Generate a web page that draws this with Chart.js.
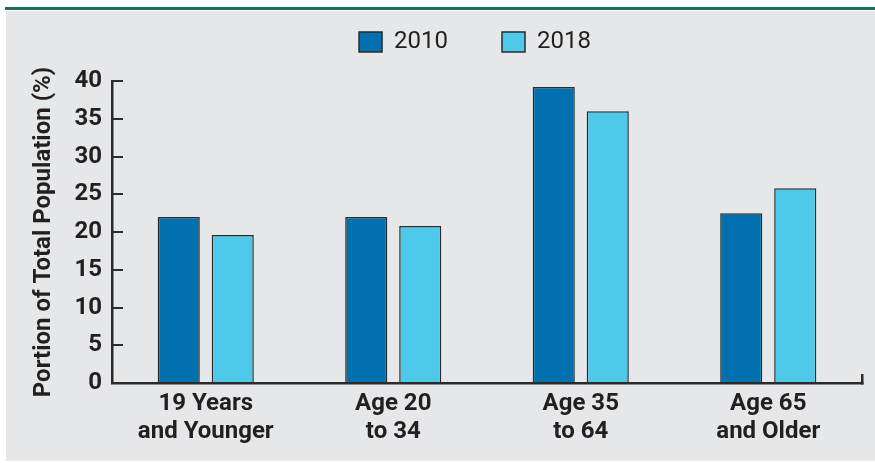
<!DOCTYPE html>
<html>
<head>
<meta charset="utf-8">
<script src="https://cdn.jsdelivr.net/npm/chart.js@4/dist/chart.umd.min.js"></script>
<style>
body{margin:0;background:#fff;}
#rule{position:absolute;left:5px;top:7px;width:870px;height:3px;background:#1b6d58;}
#panel{position:absolute;left:6px;top:11px;width:869px;height:450px;background:#e6e7e8;}
#pop{position:absolute;left:0;top:0;}
</style>
</head>
<body>
<div id="rule"></div>
<div id="panel"></div>
<canvas id="pop" width="875" height="463"></canvas>
<script>
const categories=[["19 Years","and Younger"],["Age 20","to 34"],["Age 35","to 64"],["Age 65","and Older"]];
const values2010=[22.0,22.0,39.2,22.5];
const values2018=[19.6,20.8,36.0,25.8];
const seriesNames=["2010","2018"];

Chart.defaults.font.family="Roboto";
Chart.defaults.color="#231f20";

const chart=document.getElementById("pop");
let canvas=new Chart(chart,{
    type:'bar',
    data:{
        labels:categories,
        datasets:[
            {
                label:seriesNames[0],
                data:values2010,
                backgroundColor:"#0070ae",
                borderColor:"#2b2b2b",
                borderWidth:1.5,
                xAxisID:'x',
                yAxisID:'y',
                categoryPercentage:0.576,
                barPercentage:0.78
            },
            {
                label:seriesNames[1],
                data:values2018,
                backgroundColor:"#4ec9ea",
                borderColor:"#2b2b2b",
                borderWidth:1.5,
                xAxisID:'x',
                yAxisID:'y',
                categoryPercentage:0.576,
                barPercentage:0.78
            }
        ]
    },
    options:{
        responsive:false,
        animation:false,
        layout:{padding:{top:-24,left:55,right:-20,bottom:0}},
        plugins:{
            tooltip:{enabled:false},
            legend:{
                position:'top',
                labels:{
                    boxWidth:23,
                    boxHeight:20,
                    padding:54,
                    color:"#231f20",
                    font:{size:24}
                }
            }
        },
        scales:{
            x:{
                position:'bottom',
                grid:{
                    drawOnChartArea:false,
                    tickLength:-9,
                    lineWidth:2.5,
                    color:(c)=>c.type==='tick'?'rgba(0,0,0,0)':'#2b2b2b'
                },
                border:{display:true,color:'#2b2b2b',width:2.5},
                ticks:{
                    padding:16,
                    color:"#231f20",
                    font:{size:24,weight:'bold',lineHeight:1.18}
                },
                afterFit:(s)=>{s.height=80;}
            },
            xTop:{
                type:'category',
                position:'top',
                grid:{display:false},
                border:{display:false},
                ticks:{display:false},
                afterFit:(s)=>{s.height=17;}
            },
            y:{
                min:0,
                max:40,
                ticks:{
                    stepSize:5,
                    padding:21,
                    color:"#231f20",
                    font:{size:24,weight:'bold'}
                },
                grid:{
                    drawOnChartArea:false,
                    tickLength:-11,
                    lineWidth:2,
                    color:'#2b2b2b'
                },
                border:{display:true,color:'#2b2b2b',width:2.5},
                title:{
                    display:true,
                    text:"Portion of Total Population (%)",
                    color:"#231f20",
                    padding:{top:-25,bottom:0},
                    font:{size:24,weight:'bold'}
                },
                afterFit:(s)=>{s.width=57;}
            },
            yRight:{
                type:'linear',
                position:'right',
                grid:{display:false},
                border:{display:false},
                ticks:{display:false},
                afterFit:(s)=>{s.width=33;}
            }
        }
    }
});
</script>
</body>
</html>
